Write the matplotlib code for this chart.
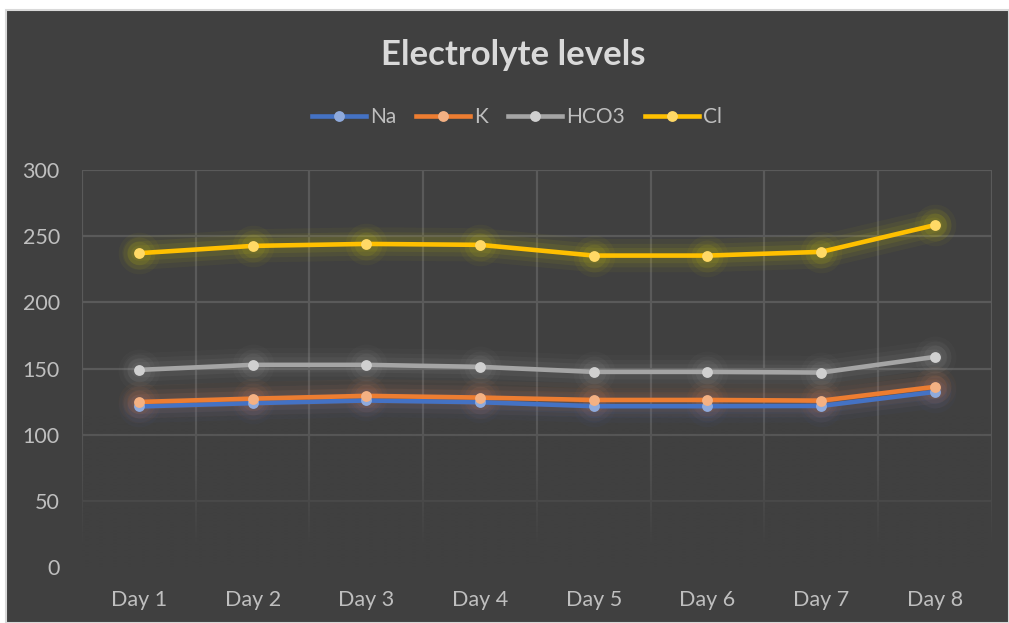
import numpy as np
import matplotlib
matplotlib.use("Agg")
import matplotlib.pyplot as plt
from matplotlib.patches import Rectangle
from matplotlib.lines import Line2D

days = ["Day 1", "Day 2", "Day 3", "Day 4", "Day 5", "Day 6", "Day 7", "Day 8"]
na = [121.5, 124, 126, 124.7, 121.7, 121.7, 121.9, 132.5]
k = [124.9, 127.4, 129.5, 128.2, 126.4, 126.4, 125.9, 136.3]
hco3 = [149.1, 152.9, 152.9, 151.4, 147.6, 147.6, 147.1, 158.9]
cl = [237.2, 242.7, 244.2, 243.5, 235.4, 235.4, 238.2, 258.4]
series_names = ["Na", "K", "HCO3", "Cl"]
yticks = [0, 50, 100, 150, 200, 250, 300]

line_colors = ["#4472C4", "#ED7D31", "#A5A5A5", "#FFC000"]
marker_colors = ["#8FAADC", "#F4B183", "#D0D0D0", "#FFD966"]
glow_colors = ["#4472C4", "#ED7D31", "#A5A5A5", "#E8E000"]

plt.rcParams['font.family'] = ['Lato', 'DejaVu Sans']

W, H = 1009, 623
fig = plt.figure(figsize=(W / 100, H / 100), dpi=100, facecolor="white")
bg = "#404040"
fig.patches.append(Rectangle((6 / W, 0), 1 - 6 / W, 1 - 10 / H, transform=fig.transFigure,
                             facecolor=bg, edgecolor="#D9D9D9", linewidth=1.5, zorder=-10))

left, right, top, bottom = 82 / W, 991.7 / W, 1 - 170 / H, 1 - 567.4 / H
ax = fig.add_axes([left, bottom, right - left, top - bottom])
ax.set_facecolor(bg)
for s in ax.spines.values():
    s.set_visible(False)

n = len(days)
x = np.arange(n)
ax.set_xlim(-0.5, n - 0.5)
ax.set_ylim(yticks[0], yticks[-1])
ax.set_yticks(yticks)
ax.set_xticks(x)
ax.set_xticklabels(days)
ax.set_xticks(np.arange(n + 1) - 0.5, minor=True)
ax.tick_params(axis='both', which='both', length=0)
ax.tick_params(axis='y', pad=16, labelsize=15.5, labelcolor="#BFBFBF")
ax.tick_params(axis='x', pad=16, labelsize=15.5, labelcolor="#BFBFBF")

gridc = "#5A5A5A"
ax.grid(True, axis='y', which='major', color=gridc, linewidth=1.6, zorder=0)
ax.grid(True, axis='x', which='minor', color=gridc, linewidth=1.6, zorder=0)
ax.grid(False, axis='x', which='major')

# fade gridlines toward the bottom
grad = np.zeros((256, 1, 4))
bgrgb = matplotlib.colors.to_rgb(bg)
grad[..., 0], grad[..., 1], grad[..., 2] = bgrgb
yy = np.linspace(0, 300, 256)
alpha = np.clip((115 - yy) / (115 - 15), 0, 1)
grad[:, 0, 3] = alpha
ax.imshow(grad, extent=(-0.5, n - 0.5, 0, 300), origin='lower', aspect='auto', zorder=1.8,
          interpolation='bilinear')
ax.set_xlim(-0.5, n - 0.5)
ax.set_ylim(0, 300)

data = [na, k, hco3, cl]
# glows
for vals, gc in zip(data, glow_colors):
    for lw, a in [(24, 0.04), (17, 0.06), (11, 0.08)]:
        ax.plot(x, vals, color=gc, linewidth=lw, alpha=a, solid_capstyle='round',
                solid_joinstyle='round', zorder=2)
        ax.plot(x, vals, linestyle='none', marker='o', markersize=lw + 6, color=gc,
                alpha=a, markeredgewidth=0, zorder=2)
for i, (vals, lc, mc) in enumerate(zip(data, line_colors, marker_colors)):
    ax.plot(x, vals, color=lc, linewidth=3.3, solid_capstyle='round', zorder=3 + i)
    ax.plot(x, vals, linestyle='none', marker='o', markersize=7.8, color=mc,
            markeredgewidth=0, zorder=3 + i)

fig.text(513 / W, 1 - 55 / H, "Electrolyte levels", ha='center', va='center',
         fontsize=25, fontweight='bold', color="#D9D9D9")

handles = [Line2D([], [], color=lc, linewidth=3.3, marker='o', markersize=7.8,
                  markerfacecolor=mc, markeredgewidth=0)
           for lc, mc in zip(line_colors, marker_colors)]
leg = fig.legend(handles, series_names, loc='center', bbox_to_anchor=(517 / W, 1 - 117 / H),
                 ncol=4, frameon=False, fontsize=15, handlelength=2.6,
                 handletextpad=0.2, columnspacing=0.95, labelcolor="#BFBFBF",
                 markerscale=1.0, borderpad=0)

fig.savefig("out.png", dpi=100, facecolor="white")
